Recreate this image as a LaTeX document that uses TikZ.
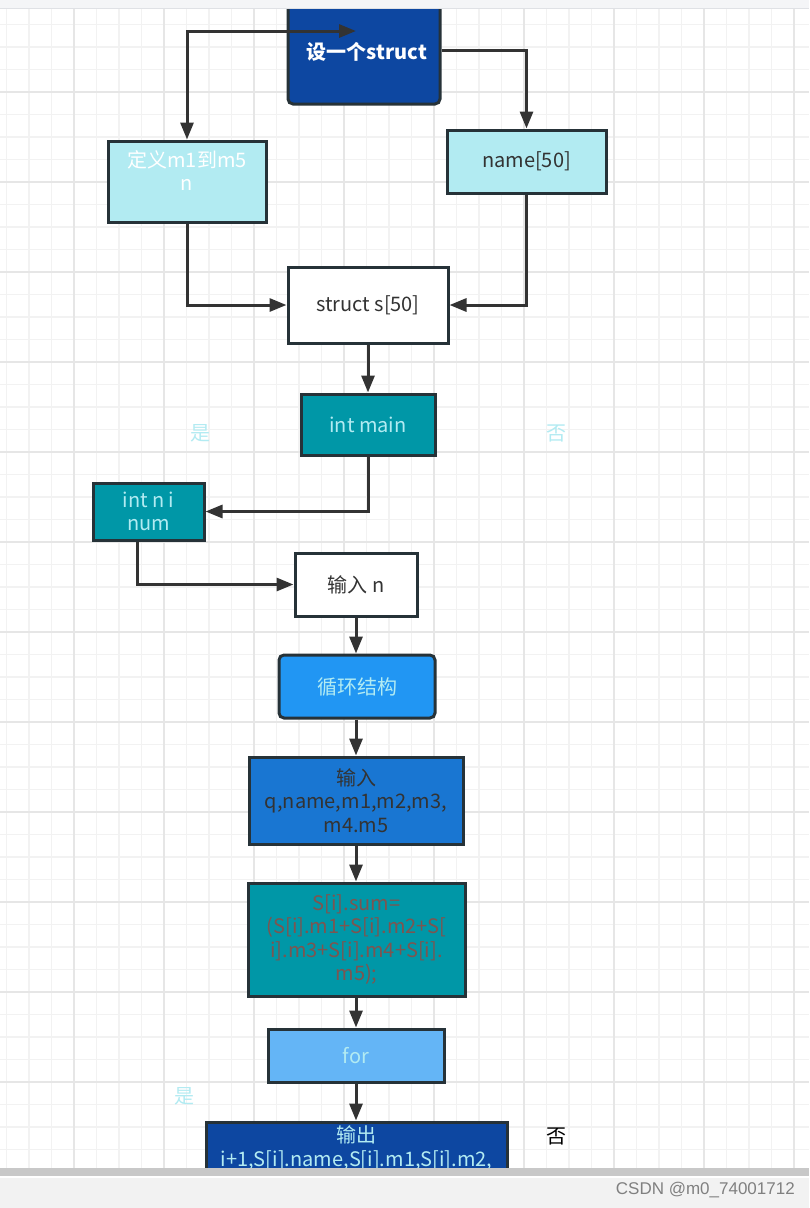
\documentclass[tikz,border=0pt]{standalone}
\usepackage{fontspec}
\setmainfont{Noto Sans CJK SC}
\newfontfamily\wmfont{Liberation Sans}
\usetikzlibrary{arrows.meta}
\definecolor{gridminor}{HTML}{F2F2F2}
\definecolor{gridmajor}{HTML}{E6E6E6}
\definecolor{darkblue}{HTML}{0D47A1}
\definecolor{lightcyan}{HTML}{B2EBF2}
\definecolor{tealbox}{HTML}{0097A7}
\definecolor{bluebox}{HTML}{2196F3}
\definecolor{midblue}{HTML}{1976D2}
\definecolor{skyblue}{HTML}{64B5F6}
\definecolor{edgecol}{HTML}{333333}
\definecolor{bordercol}{HTML}{263238}
\definecolor{darktext}{HTML}{333333}
\definecolor{browntext}{HTML}{7D5550}
\definecolor{topbar}{HTML}{F4F5F7}
\definecolor{topline}{HTML}{DFE1E5}
\definecolor{scroll}{HTML}{C8C8C8}
\definecolor{footer}{HTML}{F2F2F2}
\tikzset{
  box/.style={draw=bordercol, line width=3pt, inner sep=0pt, align=center,
    font=\fontsize{20}{23.5}\selectfont},
  txt/.style={inner sep=0pt, align=center, font=\fontsize{20}{23.5}\selectfont},
  conn/.style={draw=edgecol, line width=3pt, -{Triangle[length=17pt,width=13pt]}},
  connboth/.style={draw=edgecol, line width=3pt, {Triangle[length=17pt,width=13pt]}-{Triangle[length=17pt,width=13pt]}},
}
\begin{document}
\begin{tikzpicture}[x=1pt,y=-1pt]
\useasboundingbox (0,0) rectangle (809,1208);
\fill[white] (0,0) rectangle (809,1208);
% grid
\foreach \k in {0,...,35} {
  \draw[gridminor, line width=1.5pt] ({6.5+22.5*\k},8) -- ({6.5+22.5*\k},1168);
}
\foreach \k in {1,...,51} {
  \draw[gridminor, line width=1.5pt] (0,{2+22.5*\k}) -- (809,{2+22.5*\k});
}
\foreach \k in {0,...,8} {
  \draw[gridmajor, line width=1.5pt] ({74+90*\k},8) -- ({74+90*\k},1168);
}
\foreach \k in {1,...,12} {
  \draw[gridmajor, line width=1.5pt] (0,{2+90*\k}) -- (809,{2+90*\k});
}
% nodes
\node[box, fill=darkblue, rounded corners=5pt, minimum width=152pt, minimum height=108pt] (st) at (364,50) {};
\node[txt, text=white, font=\fontsize{20}{23.5}\selectfont\bfseries] (stt) at (367,52) {设一个struct};
\node[box, fill=lightcyan, minimum width=158pt, minimum height=81pt] (def) at (187,181.5) {};
\node[txt, text=white] (deft) at (187,170.5) {定义m1到m5\\n};
\node[box, fill=lightcyan, minimum width=159pt, minimum height=63pt, text=darktext] (nm) at (526.5,161.5) {name[50]};
\node[box, fill=white, minimum width=160pt, minimum height=76pt, text=darktext] (ss) at (368,305) {struct s[50]};
\node[box, fill=tealbox, minimum width=134pt, minimum height=61pt, text=lightcyan] (mn) at (368,424.5) {int main};
\node[box, fill=tealbox, minimum width=111pt, minimum height=57pt, text=lightcyan] (nni) at (148.5,511.5) {int n i\\num};
\node[box, fill=white, minimum width=122pt, minimum height=63pt, text=darktext] (inn) at (356,584.5) {输入 n};
\node[box, fill=bluebox, rounded corners=5pt, minimum width=156pt, minimum height=63pt, text=lightcyan] (lp) at (357,686.5) {循环结构};
\node[box, fill=midblue, minimum width=214pt, minimum height=87pt, text=darktext] (inq) at (356,800.5) {输入\\q,name,m1,m2,m3,\\m4.m5};
\node[box, fill=tealbox, minimum width=217pt, minimum height=113pt, text=browntext] (sum) at (356.5,939.5) {S[i].sum=\\(S[i].m1+S[i].m2+S[\\i].m3+S[i].m4+S[i].\\m5);};
\node[box, fill=skyblue, minimum width=176pt, minimum height=53pt, text=lightcyan] (fr) at (356,1055.5) {for};
\node[box, fill=darkblue, minimum width=301pt, minimum height=90pt] (out) at (356.5,1167) {};
\node[txt, text=lightcyan] (outt) at (356.5,1148) {输出\\i+1,S[i].name,S[i].m1,S[i].m2,};
% side labels
\node[txt, text=lightcyan] (y1) at (200,433) {是};
\node[txt, text=lightcyan] (n1) at (556,433) {否};
\node[txt, text=lightcyan] (y2) at (184,1096) {是};
\node[txt, text=black] (n2) at (556,1136) {否};
% connectors
\coordinate (sx) at (356,31);
\draw[connboth] (def.north) |- (sx);
\draw[conn] (st.east) -| (nm.north);
\draw[conn] (def.south) |- (ss.west);
\draw[conn] (nm.south) |- (ss.east);
\draw[conn] (ss.south) -- (mn.north);
\draw[conn] (mn.south) |- (nni.east);
\draw[conn] ([xshift=-11.5pt]nni.south) |- (inn.west);
\draw[conn] (inn.south) -- (inn.south |- lp.north);
\draw[conn] (lp.south -| inq.north) -- (inq.north);
\draw[conn] (inq.south) -- (inq.south |- sum.north);
\draw[conn] (sum.south -| fr.north) -- (fr.north);
\draw[conn] (fr.south) -- (fr.south |- out.north);
% top bar and footer
\fill[topbar] (0,0) rectangle (809,8);
\draw[topline, line width=1pt] (0,8) -- (809,8);
\fill[scroll] (0,1168) rectangle (809,1176);
\fill[footer] (0,1178) rectangle (809,1208);
\draw[white, line width=1.5pt] (0,1177) -- (809,1177);
\node[inner sep=0pt, anchor=east, text=gray, font=\wmfont\fontsize{17}{17}\selectfont] (wm) at (795,1190) {CSDN @m0\_74001712};
\end{tikzpicture}
\end{document}
